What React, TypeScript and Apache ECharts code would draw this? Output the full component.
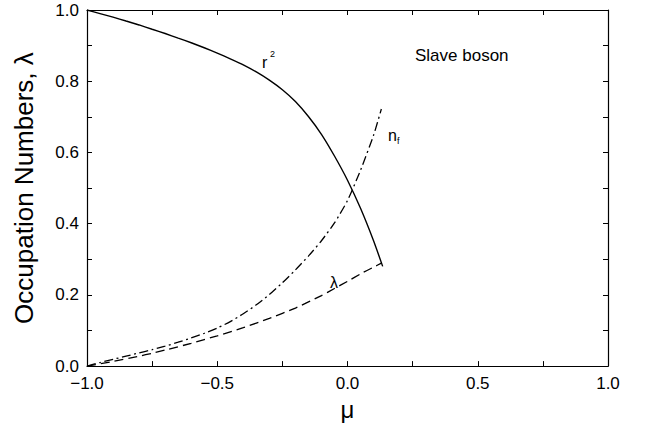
import React, { useEffect, useRef } from "react";
import * as echarts from "echarts";

const muR2 = [-1.0, -0.95, -0.9, -0.85, -0.8, -0.75, -0.7, -0.65, -0.6, -0.55, -0.5, -0.45, -0.4, -0.35, -0.3, -0.25, -0.2, -0.15, -0.1, -0.05, 0.0, 0.05, 0.1, 0.135];
const r2Values = [1.0, 0.99, 0.98, 0.969, 0.958, 0.946, 0.934, 0.921, 0.908, 0.894, 0.879, 0.863, 0.846, 0.826, 0.803, 0.776, 0.743, 0.701, 0.651, 0.59, 0.522, 0.443, 0.352, 0.28];

const muNf = [-1.0, -0.95, -0.9, -0.85, -0.8, -0.75, -0.7, -0.65, -0.6, -0.55, -0.5, -0.45, -0.4, -0.35, -0.3, -0.25, -0.2, -0.15, -0.1, -0.05, 0.0, 0.05, 0.1, 0.13];
const nfValues = [0.0, 0.01, 0.019, 0.028, 0.037, 0.046, 0.056, 0.067, 0.079, 0.092, 0.107, 0.125, 0.147, 0.172, 0.201, 0.234, 0.27, 0.309, 0.352, 0.402, 0.465, 0.55, 0.648, 0.722];

const muLambda = [-1.0, -0.9, -0.8, -0.75, -0.7, -0.6, -0.5, -0.4, -0.3, -0.2, -0.1, -0.05, 0.0, 0.05, 0.1, 0.13];
const lambdaValues = [0.0, 0.013, 0.028, 0.036, 0.045, 0.064, 0.085, 0.108, 0.134, 0.163, 0.198, 0.218, 0.238, 0.259, 0.278, 0.289];

const xTicks = { min: -1, max: 1, interval: 0.5 };
const yTicks = { min: 0, max: 1, interval: 0.2 };

const FONT = "'Liberation Sans', Arial, Helvetica, sans-serif";

const fmt = (v: number) => (v < 0 ? "\u2212" + Math.abs(v).toFixed(1) : v.toFixed(1));

export default function App() {
  const ref = useRef<HTMLDivElement>(null);
  useEffect(() => {
    document.body.style.margin = "0";
    if (!ref.current) return;
    const chart = echarts.init(ref.current, undefined, { renderer: "svg" });
    const lineStyle = { color: "#000", width: 1.2 };
    const tick = { show: true, inside: true, length: 5, lineStyle: { color: "#000", width: 1 } };
    const minor = { show: true, splitNumber: 2, length: 5, lineStyle: { color: "#000", width: 1 } };
    const baseX = {
      type: "value" as const,
      min: xTicks.min,
      max: xTicks.max,
      interval: xTicks.interval,
      axisLine: { show: true, onZero: false, lineStyle },
      axisTick: tick,
      minorTick: minor,
      splitLine: { show: false },
    };
    const baseY = {
      type: "value" as const,
      min: yTicks.min,
      max: yTicks.max,
      interval: yTicks.interval,
      axisLine: { show: true, onZero: false, lineStyle },
      axisTick: tick,
      minorTick: minor,
      splitLine: { show: false },
    };
    chart.setOption({
      animation: false,
      backgroundColor: "#fff",
      grid: { left: 87, right: 41, top: 10, bottom: 54 },
      xAxis: [
        {
          ...baseX,
          position: "bottom",
          name: "\u03bc",
          nameLocation: "middle",
          nameGap: 24,
          nameTextStyle: { fontFamily: FONT, fontSize: 24, color: "#000" },
          axisLabel: { formatter: fmt, fontFamily: FONT, fontSize: 17, color: "#000", margin: 9 },
        },
        { ...baseX, position: "top", axisLabel: { show: false } },
      ],
      yAxis: [
        {
          ...baseY,
          position: "left",
          name: "Occupation Numbers, \u03bb",
          nameLocation: "middle",
          nameGap: 50,
          nameTextStyle: { fontFamily: FONT, fontSize: 26, color: "#000" },
          axisLabel: { formatter: (v: number) => v.toFixed(1), fontFamily: FONT, fontSize: 17, color: "#000", margin: 8 },
        },
        { ...baseY, position: "right", axisLabel: { show: false } },
      ],
      series: [
        {
          name: "r2",
          type: "line",
          data: muR2.map((m, i) => [m, r2Values[i]]),
          showSymbol: false,
          smooth: 0.2,
          lineStyle: { color: "#000", width: 1.4, type: "solid" },
        },
        {
          name: "nf",
          type: "line",
          data: muNf.map((m, i) => [m, nfValues[i]]),
          showSymbol: false,
          smooth: 0.2,
          lineStyle: { color: "#000", width: 1.3, type: [9, 3.5, 2, 3.5] },
        },
        {
          name: "lambda",
          type: "line",
          data: muLambda.map((m, i) => [m, lambdaValues[i]]),
          showSymbol: false,
          smooth: 0.2,
          lineStyle: { color: "#000", width: 1.3, type: [9, 5] },
        },
      ],
      graphic: [
        { type: "text", left: 262, top: 54, style: { text: "r", font: `16px ${FONT}`, fill: "#000" } },
        { type: "text", left: 270, top: 49, style: { text: "2", font: `9px ${FONT}`, fill: "#000" } },
        { type: "text", left: 388, top: 127, style: { text: "n", font: `16px ${FONT}`, fill: "#000" } },
        { type: "text", left: 397, top: 136, style: { text: "f", font: `9px ${FONT}`, fill: "#000" } },
        { type: "text", left: 330, top: 274, style: { text: "\u03bb", font: `16px ${FONT}`, fill: "#000" } },
        { type: "text", left: 415, top: 47, style: { text: "Slave boson", font: `17px ${FONT}`, fill: "#000" } },
      ],
    });
    return () => chart.dispose();
  }, []);
  return <div ref={ref} style={{ width: 649, height: 426 }} />;
}
